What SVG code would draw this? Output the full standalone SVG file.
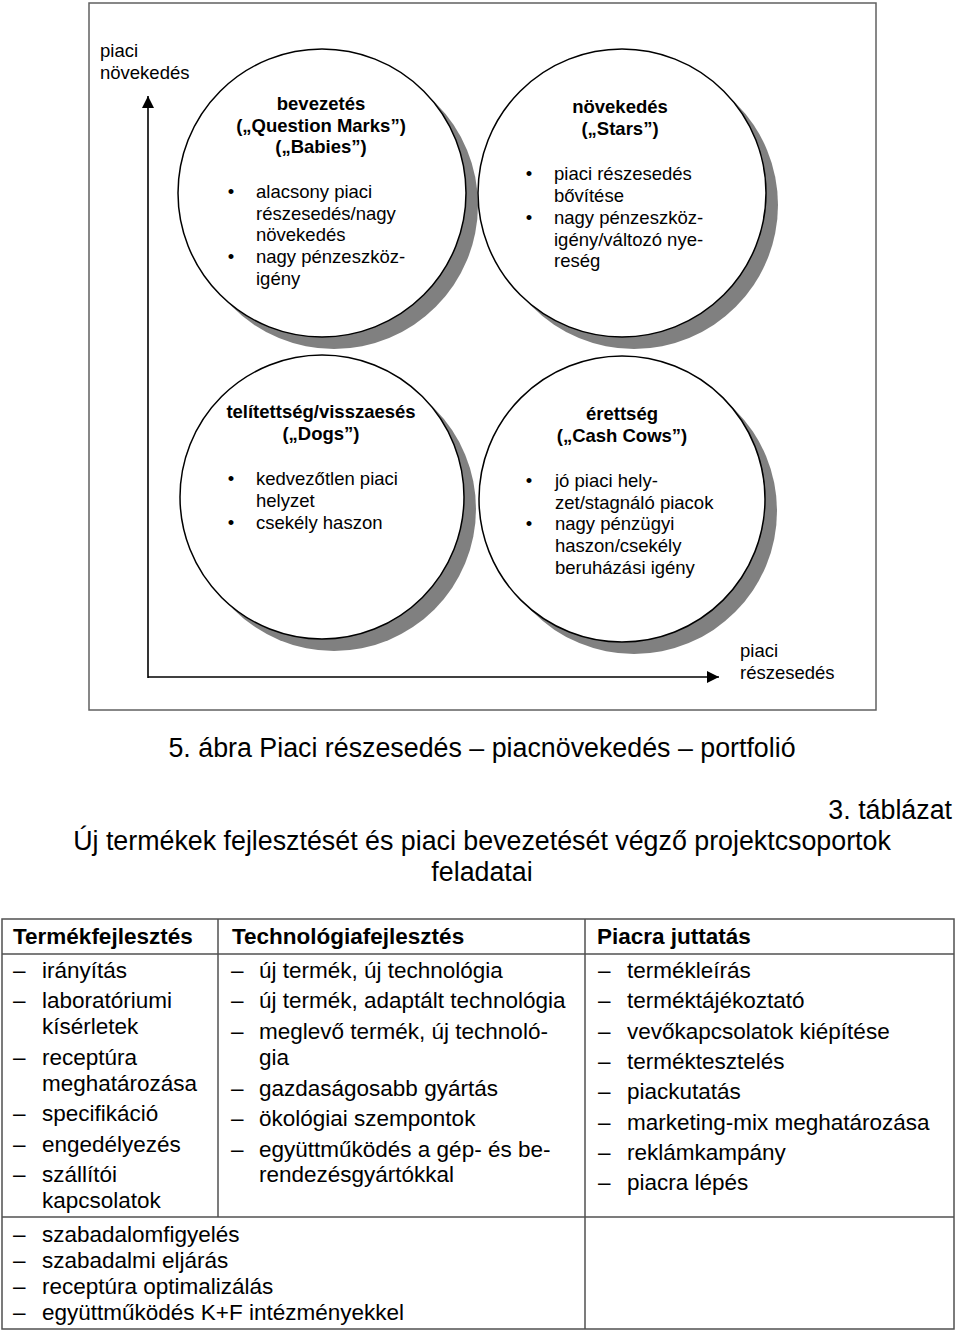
<svg xmlns="http://www.w3.org/2000/svg" width="960" height="1334" viewBox="0 0 960 1334">
<style>
text{font-family:"Liberation Sans",Arial,sans-serif;fill:#000}
.s{font-size:18.5px}
.b{font-size:18.5px;font-weight:bold;text-anchor:middle}
.bl{font-size:18.5px;text-anchor:middle}
.cap{font-size:26.8px}
.t{font-size:22.5px}
.th{font-size:22.5px;font-weight:bold}
.sh{fill:#808080}
.cc{fill:#fff;stroke:#000;stroke-width:1.5}
.frame{fill:none;stroke:#606060;stroke-width:1.5}
.ax{stroke:#000;stroke-width:1.6;fill:none}
.tl{stroke:#505050;stroke-width:1.5;fill:none}
</style>
<defs>
<marker id="arr" viewBox="0 0 12 12" refX="12" refY="6" markerWidth="12" markerHeight="12" markerUnits="userSpaceOnUse" orient="auto">
<path d="M0,0 L12,6 L0,12 Z" fill="#000"/>
</marker>
</defs>
<rect class="frame" x="89" y="3" width="787" height="707"/>
<g id="axis-labels">
<text class="s" x="100" y="57">piaci</text>
<text class="s" x="100" y="79">növekedés</text>
<text class="s" x="740" y="657">piaci</text>
<text class="s" x="740" y="679">részesedés</text>
</g>
<g id="connectors">
<line class="ax" x1="148" y1="678" x2="148" y2="96" marker-end="url(#arr)"/>
<line class="ax" x1="148" y1="677" x2="719" y2="677" marker-end="url(#arr)"/>
</g>
<g id="node-bevezetes">
<circle class="sh" cx="334" cy="205" r="144"/>
<circle class="cc" cx="322" cy="193" r="144"/>
<text class="b" x="321" y="110">bevezetés</text>
<text class="b" x="321" y="132">(„Question Marks”)</text>
<text class="b" x="321" y="153">(„Babies”)</text>
<text class="bl" x="231" y="198">•</text>
<text class="s" x="256" y="198">alacsony piaci</text>
<text class="s" x="256" y="220">részesedés/nagy</text>
<text class="s" x="256" y="241">növekedés</text>
<text class="bl" x="231" y="263">•</text>
<text class="s" x="256" y="263">nagy pénzeszköz-</text>
<text class="s" x="256" y="285">igény</text>
</g>
<g id="node-novekedes">
<circle class="sh" cx="634" cy="205" r="144"/>
<circle class="cc" cx="622" cy="193" r="144"/>
<text class="b" x="620" y="113">növekedés</text>
<text class="b" x="620" y="135">(„Stars”)</text>
<text class="bl" x="529" y="180">•</text>
<text class="s" x="554" y="180">piaci részesedés</text>
<text class="s" x="554" y="202">bővítése</text>
<text class="bl" x="529" y="224">•</text>
<text class="s" x="554" y="224">nagy pénzeszköz-</text>
<text class="s" x="554" y="246">igény/változó nye-</text>
<text class="s" x="554" y="267">reség</text>
</g>
<g id="node-telitettseg">
<circle class="sh" cx="334" cy="509" r="142"/>
<circle class="cc" cx="322" cy="497" r="142"/>
<text class="b" x="321" y="418">telítettség/visszaesés</text>
<text class="b" x="321" y="440">(„Dogs”)</text>
<text class="bl" x="231" y="485">•</text>
<text class="s" x="256" y="485">kedvezőtlen piaci</text>
<text class="s" x="256" y="507">helyzet</text>
<text class="bl" x="231" y="529">•</text>
<text class="s" x="256" y="529">csekély haszon</text>
</g>
<g id="node-erettseg">
<circle class="sh" cx="634" cy="511" r="143"/>
<circle class="cc" cx="622" cy="499" r="143"/>
<text class="b" x="622" y="420">érettség</text>
<text class="b" x="622" y="442">(„Cash Cows”)</text>
<text class="bl" x="529" y="487">•</text>
<text class="s" x="555" y="487">jó piaci hely-</text>
<text class="s" x="555" y="509">zet/stagnáló piacok</text>
<text class="bl" x="529" y="530">•</text>
<text class="s" x="555" y="530">nagy pénzügyi</text>
<text class="s" x="555" y="552">haszon/csekély</text>
<text class="s" x="555" y="574">beruházási igény</text>
</g>
<g id="captions">
<text class="cap" x="482" y="757" text-anchor="middle">5. ábra Piaci részesedés – piacnövekedés – portfolió</text>
<text class="cap" x="952" y="819" text-anchor="end">3. táblázat</text>
<text class="cap" x="482" y="850" text-anchor="middle">Új termékek fejlesztését és piaci bevezetését végző projektcsoportok</text>
<text class="cap" x="482" y="881" text-anchor="middle">feladatai</text>
</g>
<g id="table">
<rect class="tl" x="2" y="919" width="952" height="410"/>
<line class="tl" x1="2" y1="954" x2="954" y2="954"/>
<line class="tl" x1="2" y1="1217" x2="954" y2="1217"/>
<line class="tl" x1="218" y1="919" x2="218" y2="1217"/>
<line class="tl" x1="585" y1="919" x2="585" y2="1329"/>
<text class="th" x="13" y="944">Termékfejlesztés</text>
<text class="th" x="232" y="944">Technológiafejlesztés</text>
<text class="th" x="597" y="944">Piacra juttatás</text>
<g class="t">
<text class="t" x="13" y="978">–</text><text class="t" x="42" y="978">irányítás</text>
<text class="t" x="13" y="1008">–</text><text class="t" x="42" y="1008">laboratóriumi</text>
<text class="t" x="42" y="1034">kísérletek</text>
<text class="t" x="13" y="1065">–</text><text class="t" x="42" y="1065">receptúra</text>
<text class="t" x="42" y="1091">meghatározása</text>
<text class="t" x="13" y="1121">–</text><text class="t" x="42" y="1121">specifikáció</text>
<text class="t" x="13" y="1152">–</text><text class="t" x="42" y="1152">engedélyezés</text>
<text class="t" x="13" y="1182">–</text><text class="t" x="42" y="1182">szállítói</text>
<text class="t" x="42" y="1208">kapcsolatok</text>

<text class="t" x="231" y="978">–</text><text class="t" x="259" y="978">új termék, új technológia</text>
<text class="t" x="231" y="1008">–</text><text class="t" x="259" y="1008">új termék, adaptált technológia</text>
<text class="t" x="231" y="1039">–</text><text class="t" x="259" y="1039">meglevő termék, új technoló-</text>
<text class="t" x="259" y="1065">gia</text>
<text class="t" x="231" y="1096">–</text><text class="t" x="259" y="1096">gazdaságosabb gyártás</text>
<text class="t" x="231" y="1126">–</text><text class="t" x="259" y="1126">ökológiai szempontok</text>
<text class="t" x="231" y="1157">–</text><text class="t" x="259" y="1157">együttműködés a gép- és be-</text>
<text class="t" x="259" y="1182">rendezésgyártókkal</text>

<text class="t" x="598" y="978">–</text><text class="t" x="627" y="978">termékleírás</text>
<text class="t" x="598" y="1008">–</text><text class="t" x="627" y="1008">terméktájékoztató</text>
<text class="t" x="598" y="1039">–</text><text class="t" x="627" y="1039">vevőkapcsolatok kiépítése</text>
<text class="t" x="598" y="1069">–</text><text class="t" x="627" y="1069">terméktesztelés</text>
<text class="t" x="598" y="1099">–</text><text class="t" x="627" y="1099">piackutatás</text>
<text class="t" x="598" y="1130">–</text><text class="t" x="627" y="1130">marketing-mix meghatározása</text>
<text class="t" x="598" y="1160">–</text><text class="t" x="627" y="1160">reklámkampány</text>
<text class="t" x="598" y="1190">–</text><text class="t" x="627" y="1190">piacra lépés</text>

<text class="t" x="13" y="1242">–</text><text class="t" x="42" y="1242">szabadalomfigyelés</text>
<text class="t" x="13" y="1268">–</text><text class="t" x="42" y="1268">szabadalmi eljárás</text>
<text class="t" x="13" y="1294">–</text><text class="t" x="42" y="1294">receptúra optimalizálás</text>
<text class="t" x="13" y="1320">–</text><text class="t" x="42" y="1320">együttműködés K+F intézményekkel</text>
</g>
</g>
</svg>
